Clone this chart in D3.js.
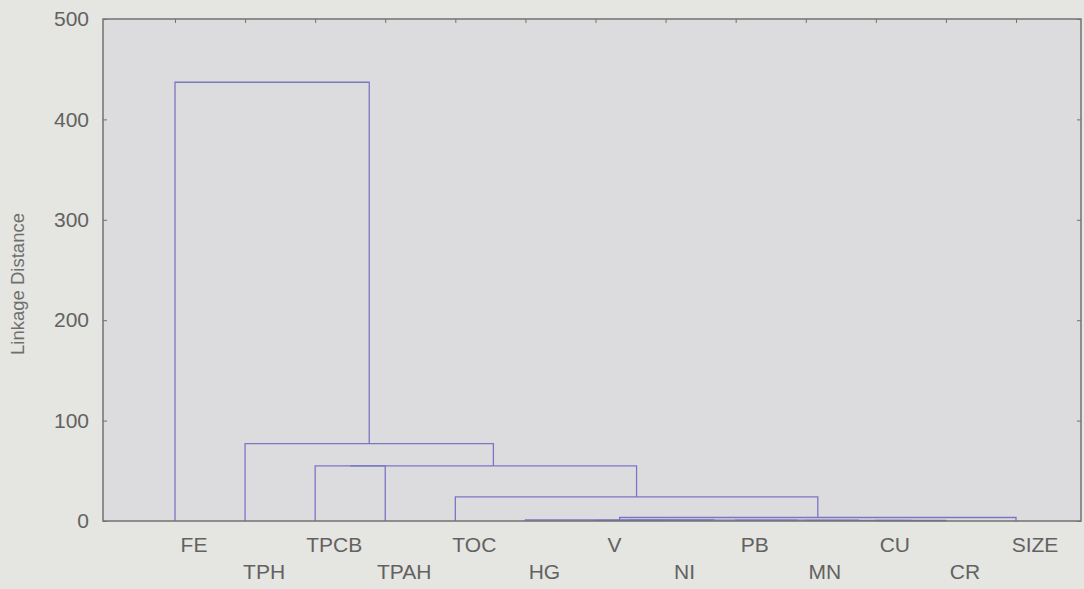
<!DOCTYPE html>
<html>
<head>
<meta charset="utf-8">
<script src="https://cdn.jsdelivr.net/npm/d3@7"></script>
<style>
  html, body { margin: 0; padding: 0; background: #e5e5e1; }
  svg { display: block; }
  text { font-family: Arial, "Liberation Sans", sans-serif; }
</style>
</head>
<body>
<svg id="chart" width="1084" height="589"></svg>
<script>
// Variables in dendrogram order
const leaves = ["FE", "TPH", "TPCB", "TPAH", "TOC", "HG", "V", "NI", "PB", "MN", "CU", "CR", "SIZE"];

// Joining steps (single linkage): cluster A + cluster B at a linkage distance.
// Names "m<i>" refer to the cluster formed at step i.
const mergeA    = ["CU", "V",  "MN", "PB", "m1", "HG", "m5", "TOC", "TPCB", "m8", "TPH", "FE"];
const mergeB    = ["CR", "NI", "m0", "m2", "m3", "m4", "SIZE", "m6", "TPAH", "m7", "m9", "m10"];
const mergeDist = [0.5,  0.6,  0.7,  0.8,  0.9,  1.0,  3.5,   24,   55,    55,   77,   437];

const yTicks = [0, 100, 200, 300, 400, 500];

const frame = { left: 103, right: 1081, top: 19, bottom: 521 };

const svg = d3.select("#chart");

const x = d3.scalePoint().domain(leaves).range([175, 1016]);
const y = d3.scaleLinear().domain([0, 500]).range([frame.bottom, frame.top]);

// plot area
svg.append("rect")
  .attr("x", frame.left).attr("y", frame.top)
  .attr("width", frame.right - frame.left)
  .attr("height", frame.bottom - frame.top)
  .attr("fill", "#dcdcde");

// resolve node positions: leaves at their slot, clusters at the midpoint of their two members
const pos = new Map();
leaves.forEach(l => pos.set(l, { x: x(l), h: 0 }));

const links = [];
mergeA.forEach((a, i) => {
  const b = mergeB[i];
  const h = mergeDist[i];
  const pa = pos.get(a), pb = pos.get(b);
  links.push({ a: pa, b: pb, h });
  pos.set("m" + i, { x: (pa.x + pb.x) / 2, h });
});

// tree lines
svg.append("g")
  .attr("fill", "none")
  .attr("stroke", "#7a76c6")
  .attr("stroke-width", 1.3)
  .selectAll("path")
  .data(links)
  .join("path")
  .attr("d", d => `M${d.a.x},${y(d.a.h)}V${y(d.h)}H${d.b.x}V${y(d.b.h)}`);

// y axis, ticks pointing inward
const yAxis = svg.append("g")
  .attr("transform", `translate(${frame.left},0)`)
  .call(d3.axisLeft(y).tickValues(yTicks).tickSizeInner(-4).tickSizeOuter(0).tickPadding(14));
yAxis.select(".domain").remove();
yAxis.selectAll(".tick line").attr("stroke", "#707070");
yAxis.selectAll(".tick text")
  .attr("font-size", 21)
  .attr("fill", "#626262")
  .attr("font-family", "Arial, 'Liberation Sans', sans-serif");

// mirrored ticks on the right edge
const yAxisR = svg.append("g")
  .attr("transform", `translate(${frame.right},0)`)
  .call(d3.axisRight(y).tickValues(yTicks).tickSizeInner(-4).tickSizeOuter(0).tickFormat(""));
yAxisR.select(".domain").remove();
yAxisR.selectAll(".tick line").attr("stroke", "#707070");

// top ticks at each variable
const xTop = svg.append("g")
  .attr("transform", `translate(0,${frame.top})`)
  .call(d3.axisTop(x).tickSizeInner(-4).tickSizeOuter(0).tickFormat(""));
xTop.select(".domain").remove();
xTop.selectAll(".tick line").attr("stroke", "#707070");

// frame
svg.append("rect")
  .attr("x", frame.left).attr("y", frame.top)
  .attr("width", frame.right - frame.left)
  .attr("height", frame.bottom - frame.top)
  .attr("fill", "none")
  .attr("stroke", "#727272")
  .attr("stroke-width", 1.5);

// variable labels, staggered on two rows
svg.append("g")
  .selectAll("text")
  .data(leaves)
  .join("text")
  .attr("x", d => x(d) + 19)
  .attr("y", (d, i) => i % 2 === 0 ? 552 : 579)
  .attr("text-anchor", "middle")
  .attr("font-size", 21)
  .attr("fill", "#626262")
  .text(d => d);

// axis title
svg.append("text")
  .attr("transform", "translate(24,284) rotate(-90)")
  .attr("text-anchor", "middle")
  .attr("font-size", 18.5)
  .attr("fill", "#6e6e6e")
  .text("Linkage Distance");
</script>
</body>
</html>
